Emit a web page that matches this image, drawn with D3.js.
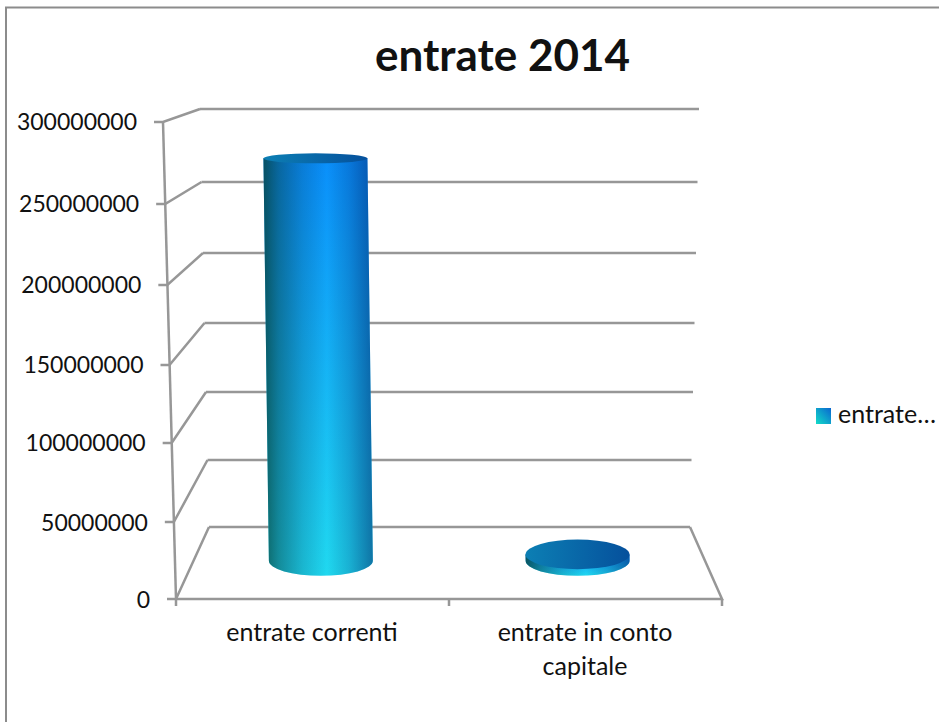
<!DOCTYPE html>
<html>
<head>
<meta charset="utf-8">
<script src="https://cdn.jsdelivr.net/npm/d3@7"></script>
<style>
html,body{margin:0;padding:0;background:#fff;}
svg{display:block;}
text{font-family:Lato,"Noto Sans",sans-serif;fill:#111;}
</style>
</head>
<body>
<svg id="chart" width="939" height="722"></svg>
<script>
// Chart content
const titleText = "entrate 2014";
const legendLabel = "entrate…";
const categories = [["entrate correnti"], ["entrate in conto", "capitale"]];
const seriesValues = [272000000, 4500000];
const yTicks = [0, 50000000, 100000000, 150000000, 200000000, 250000000, 300000000];

// Oblique frame: the front edge, back edge and right end of each wall level
const frontY = d3.scaleLinear().domain(yTicks).range([599, 522, 443, 365, 285, 204, 122]);
const backY  = d3.scaleLinear().domain(yTicks).range([527, 460, 392, 323, 253, 182, 109]);
const frontX = d3.scaleLinear().domain([0, 300000000]).range([176, 163]);
const backX  = d3.scaleLinear().domain([0, 300000000]).range([209, 200]);
const backRight = d3.scaleLinear().domain([0, 300000000]).range([690, 699]);
const floorX = d3.scaleBand().domain(d3.range(categories.length)).range([176, 722]);
const midX = d3.scaleBand().domain(d3.range(categories.length)).range([192.5, 706]).paddingInner(0.595).paddingOuter(0.2975);

// Bars sit part way between the front and back edges
const barDepth = 0.53;
const barY = v => frontY(v) * (1 - barDepth) + backY(v) * barDepth;
const leanX = d3.scaleLinear().domain([0, 300000000]).range([0, -6]);
const capRy = d3.scaleLinear().domain([561, 159]).range([15, 5]);

const svg = d3.select("#chart");
const defs = svg.append("defs");

// Vertical body colour and horizontal cylinder shading
const bodyGrad = defs.append("linearGradient").attr("id", "body")
  .attr("x1", 0).attr("y1", 0).attr("x2", 0).attr("y2", 1);
bodyGrad.append("stop").attr("offset", 0).attr("stop-color", "#0a8ffb");
bodyGrad.append("stop").attr("offset", 1).attr("stop-color", "#20d9f0");

const shadeGrad = defs.append("linearGradient").attr("id", "shade");
[[0, "#063a2c", 0.74], [0.14, "#063a3c", 0.48], [0.36, "#04304a", 0.2],
 [0.58, "#002050", 0], [0.78, "#001a60", 0.2], [1, "#001a60", 0.52]].forEach(s => {
  shadeGrad.append("stop").attr("offset", s[0]).attr("stop-color", s[1]).attr("stop-opacity", s[2]);
});

const capGrad = defs.append("linearGradient").attr("id", "cap");
capGrad.append("stop").attr("offset", 0).attr("stop-color", "#0c7fb4");
capGrad.append("stop").attr("offset", 1).attr("stop-color", "#05509c");

const legendGrad = defs.append("linearGradient").attr("id", "swatch")
  .attr("x1", 0).attr("y1", 1).attr("x2", 1).attr("y2", 0);
legendGrad.append("stop").attr("offset", 0).attr("stop-color", "#12dcc8");
legendGrad.append("stop").attr("offset", 1).attr("stop-color", "#0a66d0");

// Chart area border, open on the right and at the bottom
svg.append("path").attr("d", "M6,722V7.5H939")
  .attr("fill", "none").attr("stroke", "#8c8c8c").attr("stroke-width", 2);

const frame = svg.append("g").attr("fill", "none").attr("stroke", "#979797").attr("stroke-width", 2.5);

// Back wall gridlines
frame.selectAll(".grid").data(yTicks).join("line").attr("class", "grid")
  .attr("x1", backX).attr("x2", backRight).attr("y1", backY).attr("y2", backY);

// Left wall diagonals with their outward ticks
frame.selectAll(".diag").data(yTicks).join("path").attr("class", "diag")
  .attr("d", v => `M${frontX(v) - 9},${frontY(v)}H${frontX(v)}L${backX(v)},${backY(v)}`);

// Front vertical axis
frame.append("line")
  .attr("x1", frontX(0)).attr("y1", frontY(0))
  .attr("x2", frontX(300000000)).attr("y2", frontY(300000000));

// Floor: front edge, right edge and category ticks
frame.append("path")
  .attr("d", `M${floorX.range()[0]},${frontY(0)}H${floorX.range()[1]}L${backRight(0)},${backY(0)}`);
const floorTicks = categories.map((_, i) => floorX(i)).concat(floorX.range()[1]);
frame.selectAll(".xtick").data(floorTicks).join("line").attr("class", "xtick")
  .attr("x1", d => d).attr("x2", d => d).attr("y1", frontY(0)).attr("y2", frontY(0) + 7);

// Value axis labels
svg.selectAll(".ylabel").data(yTicks).join("text").attr("class", "ylabel")
  .attr("x", v => frontX(v) - 26).attr("y", v => frontY(v) + 8 + (v < 100000000 ? 1 : 0))
  .attr("text-anchor", "end").attr("font-size", 23)
  .text(v => d3.format("d")(v));

// Cylinders
const bars = svg.selectAll(".bar").data(seriesValues).join("g").attr("class", "bar");
const baseCx = i => midX(i) + midX.bandwidth() / 2;
const rx = midX.bandwidth() / 2;
const sidePath = (v, i) => {
  const cxT = baseCx(i) + leanX(v), yT = barY(v), rT = capRy(yT);
  const cxB = baseCx(i), yB = barY(0), rB = capRy(yB);
  return `M${cxT - rx},${yT}L${cxB - rx},${yB}A${rx},${rB} 0 0 0 ${cxB + rx},${yB}L${cxT + rx},${yT}Z`;
};
bars.append("path").attr("d", sidePath).attr("fill", "url(#body)");
bars.append("path").attr("d", sidePath).attr("fill", "url(#shade)");
bars.append("ellipse")
  .attr("cx", (v, i) => baseCx(i) + leanX(v)).attr("cy", v => barY(v))
  .attr("rx", rx).attr("ry", v => capRy(barY(v)))
  .attr("fill", "url(#cap)");

// Category labels
const labels = svg.selectAll(".xlabel").data(categories).join("text").attr("class", "xlabel")
  .attr("text-anchor", "middle").attr("font-size", 25);
labels.selectAll("tspan").data((d, i) => d.map(line => ({ line, i }))).join("tspan")
  .attr("x", d => floorX(d.i) + floorX.bandwidth() / 2 - 0.5)
  .attr("y", (d, j) => 641 + j * 34)
  .text(d => d.line);

// Title
svg.append("text").attr("x", 502.5).attr("y", 71).attr("text-anchor", "middle")
  .attr("font-size", 44).attr("font-weight", 700).text(titleText);

// Legend
svg.append("rect").attr("x", 816).attr("y", 408).attr("width", 15).attr("height", 16).attr("fill", "url(#swatch)");
svg.append("text").attr("x", 838).attr("y", 423).attr("font-size", 25).text(legendLabel);
</script>
</body>
</html>
